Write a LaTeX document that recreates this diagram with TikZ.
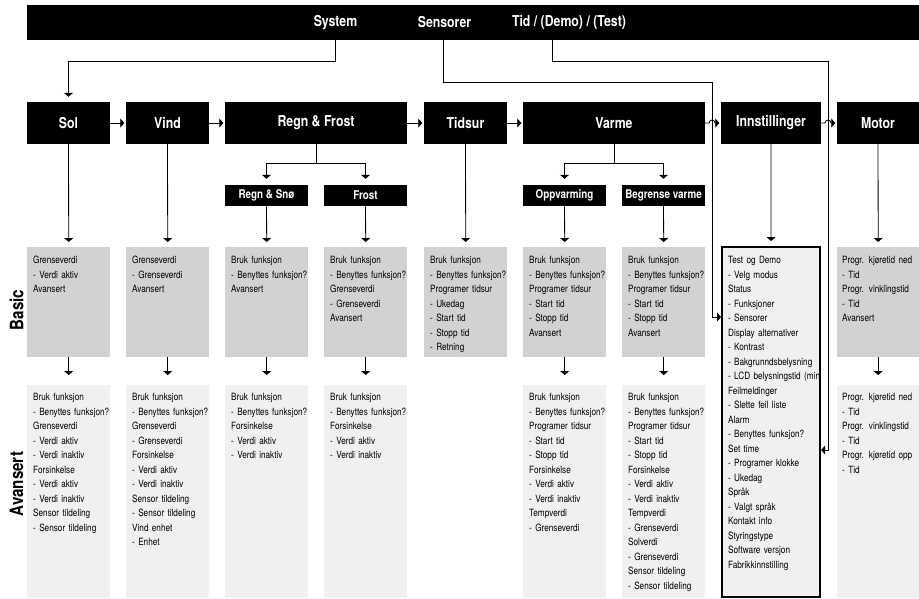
\documentclass[tikz,border=0pt]{standalone}
\usepackage{fontspec}
\setmainfont{TeX Gyre Heros}[FakeStretch=0.82]
\usetikzlibrary{arrows.meta}

\definecolor{basicgray}{RGB}{209,210,212}
\definecolor{advgray}{RGB}{240,240,240}

\newcommand{\benyttes}{\mbox{- Benyttes funksjon?}}

\tikzset{
  headbox/.style={fill=black, text=white, inner sep=0pt, minimum height=42pt,
    font=\bfseries\fontsize{15}{15}\selectfont},
  subbox/.style={fill=black, text=white, inner sep=0pt, minimum height=21pt,
    minimum width=83pt, font=\bfseries\fontsize{12}{12}\selectfont},
  bartext/.style={text=white, inner sep=0pt, font=\bfseries\fontsize{15}{15}\selectfont},
  sidetext/.style={rotate=90, inner sep=0pt, font=\bfseries\fontsize{18.5}{18.5}\selectfont},
  listbox/.style={anchor=north west, align=left, text width=71pt, inner xsep=6pt,
    inner ysep=3pt, font=\fontsize{10}{14.5}\selectfont},
  basicbox/.style={listbox, fill=basicgray, text height=13.5pt, text depth=90.5pt},
  advbox/.style={listbox, fill=advgray, text height=12.5pt, text depth=194.5pt},
  link/.style={draw, line width=0.8pt, -{Triangle[width=9pt,length=4pt]}},
}

\begin{document}
\begin{tikzpicture}[x=1pt, y=-1pt]
  \useasboundingbox (0,0) rectangle (919,598);

  % top bar
  \node[fill=black, anchor=north west, inner sep=0pt, minimum width=900pt,
    minimum height=35pt] (topbar) at (27,5) {};
  \node[bartext] (sys) at (335.5,22.5) {System};
  \node[bartext] (sens) at (444.5,22.5) {Sensorer};
  \node[bartext] (tid) at (569,22.5) {Tid / (Demo) / (Test)};
  \coordinate (sysOut) at (335,40);
  \coordinate (sensOut) at (443,40);
  \coordinate (tidOut) at (552,40);

  % main menu
  \node[headbox, minimum width=83pt] (sol) at (68.5,123) {Sol};
  \node[headbox, minimum width=83pt] (vind) at (167.5,123) {Vind};
  \node[headbox, minimum width=182pt] (regnFrost) at (316,123) {Regn \& Frost};
  \node[headbox, minimum width=83pt] (tidsur) at (465.5,123) {Tidsur};
  \node[headbox, minimum width=182pt] (varme) at (614,123) {Varme};
  \node[headbox, minimum width=100pt] (innst) at (771,123) {Innstillinger};
  \node[headbox, minimum width=82pt] (motor) at (878,123) {Motor};

  \node[subbox] (regnSno) at (266.5,195.5) {Regn \& Snø};
  \node[subbox] (frost) at (365.5,195.5) {Frost};
  \node[subbox] (oppv) at (564.5,195.5) {Oppvarming};
  \node[subbox] (begr) at (663.5,195.5) {Begrense varme};

  % basic
  \node[basicbox] (solBasic) at (27,247) {Grenseverdi\\- Verdi aktiv\\Avansert};
  \node[basicbox] (vindBasic) at (126,247) {Grenseverdi\\- Grenseverdi\\Avansert};
  \node[basicbox] (regnSnoBasic) at (225,247) {Bruk funksjon\\\benyttes\\Avansert};
  \node[basicbox] (frostBasic) at (324,247) {Bruk funksjon\\\benyttes\\Grenseverdi\\- Grenseverdi\\Avansert};
  \node[basicbox] (tidsurBasic) at (424,247) {Bruk funksjon\\\benyttes\\Programer tidsur\\- Ukedag\\- Start tid\\- Stopp tid\\- Retning};
  \node[basicbox] (oppvBasic) at (523,247) {Bruk funksjon\\\benyttes\\Programer tidsur\\- Start tid\\- Stopp tid\\Avansert};
  \node[basicbox] (begrBasic) at (622,247) {Bruk funksjon\\\benyttes\\Programer tidsur\\- Start tid\\- Stopp tid\\Avansert};
  \node[basicbox, text width=72pt, inner xsep=5pt] (motorBasic) at (837,247) {Progr. kjøretid ned\\- Tid\\Progr. vinklingstid\\- Tid\\Avansert};

  \node[listbox, fill=advgray, draw=black, line width=2.2pt, text width=86pt,
    inner xsep=6pt, text height=13.5pt, text depth=330.5pt] (innstList) at (721,246)
    {Test og Demo\\- Velg modus\\Status\\- Funksjoner\\- Sensorer\\Display alternativer\\- Kontrast\\- Bakgrunndsbelysning\\\mbox{- LCD belysningstid (min}\\Feilmeldinger\\- Slette feil liste\\Alarm\\\benyttes\\Set time\\- Programer klokke\\- Ukedag\\Språk\\- Valgt språk\\Kontakt info\\Styringstype\\Software versjon\\Fabrikkinnstilling};

  % avansert
  \node[advbox] (solAdv) at (27,385) {Bruk funksjon\\\benyttes\\Grenseverdi\\- Verdi aktiv\\- Verdi inaktiv\\Forsinkelse\\- Verdi aktiv\\- Verdi inaktiv\\Sensor tildeling\\- Sensor tildeling};
  \node[advbox] (vindAdv) at (126,385) {Bruk funksjon\\\benyttes\\Grenseverdi\\- Grenseverdi\\Forsinkelse\\- Verdi aktiv\\- Verdi inaktiv\\Sensor tildeling\\- Sensor tildeling\\Vind enhet\\- Enhet};
  \node[advbox] (regnSnoAdv) at (225,385) {Bruk funksjon\\\benyttes\\Forsinkelse\\- Verdi aktiv\\- Verdi inaktiv};
  \node[advbox] (frostAdv) at (324,385) {Bruk funksjon\\\benyttes\\Forsinkelse\\- Verdi aktiv\\- Verdi inaktiv};
  \node[advbox] (oppvAdv) at (523,385) {Bruk funksjon\\\benyttes\\Programer tidsur\\- Start tid\\- Stopp tid\\Forsinkelse\\- Verdi aktiv\\- Verdi inaktiv\\Tempverdi\\- Grenseverdi};
  \node[advbox] (begrAdv) at (622,385) {Bruk funksjon\\\benyttes\\Programer tidsur\\- Start tid\\- Stopp tid\\Forsinkelse\\- Verdi aktiv\\- Verdi inaktiv\\Tempverdi\\- Grenseverdi\\Solverdi\\- Grenseverdi\\Sensor tildeling\\- Sensor tildeling};
  \node[advbox, text width=72pt, inner xsep=5pt] (motorAdv) at (837,385) {Progr. kjøretid ned\\- Tid\\Progr. vinklingstid\\- Tid\\Progr. kjøretid opp\\- Tid};

  \node[sidetext] (basicLbl) at (16.5,310) {Basic};
  \node[sidetext] (advLbl) at (16.5,484) {Avansert};

  % connectors from the top bar
  \draw[link, shorten >=5pt] (sysOut) |- (68.5,61) -- (sol.north);
  \coordinate (sensY) at (0,317);
  \coordinate (tidY) at (0,450);
  \draw[link] (sensOut) |- (712,82) |- (innstList.west |- sensY);
  \draw[link] (tidOut) |- (828,61) |- (innstList.east |- tidY);

  % along the main menu
  \draw[link, shorten >=1.5pt] (sol) -- (vind);
  \draw[link, shorten >=1.5pt] (vind) -- (regnFrost);
  \draw[link, shorten >=1.5pt] (regnFrost) -- (tidsur);
  \draw[link, shorten >=1.5pt] (tidsur) -- (varme);
  \draw[link, shorten >=1.5pt] (varme.east) -- (709,123)
    arc[start angle=180, end angle=0, radius=3pt] -- (innst.west);
  \draw[link, shorten >=1.5pt] (innst.east) -- (825,123)
    arc[start angle=180, end angle=0, radius=3pt] -- (motor.west);

  % branches
  \draw[line width=0.8pt] (regnFrost.south) -- ++(0,19) coordinate (rfFork);
  \draw[link, shorten >=6pt] (rfFork) -| (regnSno.north);
  \draw[link, shorten >=6pt] (rfFork) -| (frost.north);
  \draw[line width=0.8pt] (varme.south) -- ++(0,19) coordinate (vaFork);
  \draw[link, shorten >=6pt] (vaFork) -| (oppv.north);
  \draw[link, shorten >=6pt] (vaFork) -| (begr.north);

  % down to basic
  \draw[link, shorten >=5pt] (sol) -- (solBasic.north);
  \draw[link, shorten >=5pt] (vind) -- (vindBasic.north);
  \draw[link, shorten >=5pt] (regnSno) -- (regnSnoBasic.north);
  \draw[link, shorten >=5pt] (frost) -- (frostBasic.north);
  \draw[link, shorten >=5pt] (tidsur) -- (tidsurBasic.north);
  \draw[link, shorten >=5pt] (oppv) -- (oppvBasic.north);
  \draw[link, shorten >=5pt] (begr) -- (begrBasic.north);
  \draw[link, shorten >=5pt] (innst) -- (innstList.north);
  \draw[link, shorten >=5pt] (motor) -- (motorBasic.north);

  % down to avansert
  \draw[link, shorten >=10pt] (solBasic) -- (solAdv.north);
  \draw[link, shorten >=10pt] (vindBasic) -- (vindAdv.north);
  \draw[link, shorten >=10pt] (regnSnoBasic) -- (regnSnoAdv.north);
  \draw[link, shorten >=10pt] (frostBasic) -- (frostAdv.north);
  \draw[link, shorten >=10pt] (oppvBasic) -- (oppvAdv.north);
  \draw[link, shorten >=10pt] (begrBasic) -- (begrAdv.north);
  \draw[link, shorten >=10pt] (motorBasic) -- (motorAdv.north);
\end{tikzpicture}
\end{document}
